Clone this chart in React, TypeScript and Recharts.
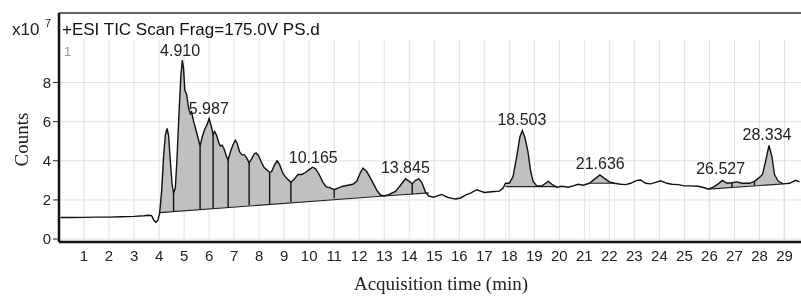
import React from 'react';
import { ComposedChart, Line, Area, Scatter, XAxis, YAxis, ReferenceLine, LabelList } from 'recharts';

// TIC trace: [time (min), counts x10^7]
const trace: [number, number][] = [
  [0.05, 1.1], [0.5, 1.1], [1.0, 1.11], [1.5, 1.12], [2.0, 1.12], [2.5, 1.14], [3.0, 1.16], [3.4, 1.19],
  [3.6, 1.22], [3.7, 1.2], [3.8, 0.95], [3.87, 0.86], [3.95, 0.95], [4.02, 1.3], [4.1, 2.4], [4.18, 4.2],
  [4.25, 5.3], [4.32, 5.65], [4.38, 5.3], [4.45, 4.0], [4.52, 2.8], [4.58, 2.35], [4.65, 2.6], [4.72, 4.2],
  [4.8, 6.5], [4.87, 8.3], [4.93, 9.15], [4.98, 8.7], [5.03, 7.6], [5.1, 7.4], [5.18, 6.7], [5.25, 6.4],
  [5.3, 6.5], [5.38, 6.0], [5.45, 5.7], [5.55, 5.2], [5.64, 4.75], [5.72, 5.2], [5.82, 5.6], [5.92, 5.85],
  [6.0, 6.15], [6.08, 5.8], [6.16, 5.35], [6.22, 5.5], [6.3, 5.3], [6.38, 4.95], [6.45, 4.75], [6.52, 4.8],
  [6.6, 4.6], [6.7, 4.2], [6.76, 4.05], [6.85, 4.45], [6.95, 4.8], [7.05, 5.05], [7.12, 4.9], [7.22, 4.45],
  [7.32, 4.3], [7.42, 4.3], [7.5, 4.15], [7.6, 3.9], [7.7, 4.1], [7.8, 4.35], [7.88, 4.4], [7.98, 4.25],
  [8.08, 3.95], [8.2, 3.65], [8.3, 3.55], [8.42, 3.4], [8.5, 3.45], [8.62, 3.8], [8.72, 4.0], [8.82, 3.8],
  [8.95, 3.35], [9.1, 3.1], [9.27, 2.9], [9.4, 3.05], [9.55, 3.3], [9.7, 3.3], [9.85, 3.4], [10.0, 3.55],
  [10.13, 3.67], [10.25, 3.6], [10.4, 3.3], [10.55, 2.9], [10.68, 2.68], [10.85, 2.62], [11.0, 2.52], [11.15, 2.6],
  [11.35, 2.7], [11.55, 2.75], [11.75, 2.8], [11.9, 2.95], [12.05, 3.4], [12.15, 3.62], [12.3, 3.45], [12.5, 3.0],
  [12.7, 2.5], [12.85, 2.25], [13.0, 2.2], [13.2, 2.28], [13.45, 2.43], [13.65, 2.75], [13.85, 3.08], [14.0, 2.95],
  [14.12, 2.82], [14.25, 3.0], [14.38, 3.08], [14.5, 2.9], [14.65, 2.4], [14.78, 2.2], [14.98, 2.14], [15.15, 2.22],
  [15.3, 2.28], [15.5, 2.15], [15.7, 2.08], [15.85, 2.05], [16.05, 2.1], [16.25, 2.25], [16.45, 2.35], [16.7, 2.52],
  [16.85, 2.45], [17.0, 2.38], [17.3, 2.42], [17.6, 2.45], [17.75, 2.6], [17.85, 2.85], [18.0, 2.85], [18.15, 3.2],
  [18.3, 4.22], [18.42, 5.2], [18.52, 5.55], [18.62, 5.2], [18.74, 4.5], [18.85, 3.5], [18.95, 2.95], [19.1, 2.72],
  [19.3, 2.72], [19.45, 2.85], [19.56, 2.95], [19.7, 2.8], [19.9, 2.65], [20.1, 2.7], [20.35, 2.65], [20.55, 2.72],
  [20.75, 2.8], [20.95, 2.75], [21.2, 2.85], [21.4, 3.05], [21.62, 3.28], [21.8, 3.1], [22.0, 2.92], [22.2, 2.85],
  [22.45, 2.8], [22.65, 2.78], [22.85, 2.85], [23.1, 3.0], [23.25, 3.02], [23.45, 2.85], [23.65, 2.82], [23.85, 2.9],
  [24.05, 2.98], [24.3, 2.85], [24.5, 2.8], [24.75, 2.78], [25.0, 2.72], [25.25, 2.72], [25.55, 2.7], [25.8, 2.62],
  [25.95, 2.55], [26.15, 2.65], [26.35, 2.82], [26.52, 3.0], [26.7, 2.85], [26.9, 2.88], [27.1, 2.92], [27.3, 2.85],
  [27.6, 2.85], [27.8, 2.95], [28.0, 3.15], [28.12, 3.3], [28.25, 4.0], [28.38, 4.78], [28.5, 4.2], [28.6, 3.3],
  [28.75, 2.95], [28.95, 2.82], [29.2, 2.85], [29.45, 3.0], [29.6, 2.92],
];

// integration windows and their baselines
const segStart = [4.02, 13.0, 17.85, 21.2, 25.95];
const segEnd = [13.0, 14.78, 19.9, 22.2, 28.95];
const baseStart = [1.35, 2.2, 2.68, 2.85, 2.55];
const baseEnd = [2.2, 2.36, 2.68, 2.86, 2.82];

// peak split lines
const divTimes = [4.58, 5.64, 6.16, 6.76, 7.6, 8.42, 9.27, 11.0, 14.12, 26.9, 27.8];
const divBase = [1.41, 1.52, 1.57, 1.63, 1.72, 1.8, 1.89, 2.08, 2.3, 2.64, 2.73];
const divTop = [2.35, 4.75, 5.35, 4.05, 3.9, 3.4, 2.9, 2.52, 2.82, 2.88, 2.95];

// annotated retention times
const peakTimes = [4.84, 5.987, 10.165, 13.845, 18.503, 21.636, 26.45, 28.3];
const peakHeights = [9.13, 6.15, 3.64, 3.13, 5.59, 3.33, 3.08, 4.82];
const peakLabels = ['4.910', '5.987', '10.165', '13.845', '18.503', '21.636', '26.527', '28.334'];

const xTicks = Array.from({ length: 29 }, (_, i) => i + 1);
const yTicks = [0, 2, 4, 6, 8];

const X_MAX = 29.66;
const Y_MIN = -0.15;
const Y_MAX = 11.55;
const GRID_TOP = 10.2;

const SANS = '"Liberation Sans", Arial, sans-serif';
const SERIF = '"Liberation Serif", "Times New Roman", serif';

const inSegment = (t: number) => segStart.some((s, i) => t >= s && t <= segEnd[i]);

export default function App() {
  const data = trace.map(([t, v]) => ({ t, v }));
  const peaks = peakTimes.map((t, i) => ({ t, v: peakHeights[i], label: peakLabels[i] }));

  return (
    <div style={{ position: 'absolute', left: 0, top: 0, width: 801, height: 300, background: '#fff' }}>
      <style>{'.grid-ref line { mix-blend-mode: darken; }'}</style>
      <ComposedChart width={801} height={300} data={data} margin={{ top: 13, right: 0, bottom: 0, left: 0 }}>
        <XAxis
          dataKey="t"
          type="number"
          domain={[0, X_MAX]}
          ticks={xTicks}
          interval={0}
          allowDataOverflow
          height={58}
          tickLine={false}
          tickSize={4}
          tickMargin={4}
          axisLine={{ stroke: '#111', strokeWidth: 2.5 }}
          tick={{ fontSize: 15, fill: '#222', fontFamily: SANS }}
          label={{
            content: (p: any) => (
              <text
                x={p.viewBox.x + p.viewBox.width / 2 + 11}
                y={p.viewBox.y + 48}
                textAnchor="middle"
                fontFamily={SERIF}
                fontSize={19}
                fill="#222"
              >
                Acquisition time (min)
              </text>
            ),
          }}
        />
        <YAxis
          type="number"
          domain={[Y_MIN, Y_MAX]}
          ticks={yTicks}
          allowDataOverflow
          width={59}
          tickSize={6}
          tickMargin={2}
          tickLine={{ stroke: '#222' }}
          axisLine={{ stroke: '#111', strokeWidth: 2.5 }}
          tick={{ fontSize: 15, fill: '#222', fontFamily: SANS }}
          label={{
            content: (p: any) => {
              const x = p.viewBox.x + 28;
              const y = p.viewBox.y + p.viewBox.height / 2 + 12;
              return (
                <text
                  x={x}
                  y={y}
                  transform={`rotate(-90, ${x}, ${y})`}
                  textAnchor="middle"
                  fontFamily={SERIF}
                  fontSize={19}
                  fill="#222"
                >
                  Counts
                </text>
              );
            },
          }}
        />

        {/* shaded peaks down to zero, then cut off under the baselines */}
        <Area
          dataKey={(d: any) => (inSegment(d.t) ? d.v : null)}
          type="linear"
          baseValue={0}
          fill="#c0c0c0"
          fillOpacity={1}
          stroke="none"
          isAnimationActive={false}
          zIndex={100}
        />
        {segStart.map((s, i) => (
          <Area
            key={`cut-${i}`}
            data={[{ t: s, b: baseStart[i] }, { t: segEnd[i], b: baseEnd[i] }]}
            dataKey="b"
            type="linear"
            baseValue={0}
            fill="#fff"
            fillOpacity={1}
            stroke="#fff"
            strokeWidth={0.6}
            isAnimationActive={false}
            zIndex={101}
          />
        ))}

        {/* grid */}
        {xTicks.map((k) => (
          <ReferenceLine
            key={`gx-${k}`}
            className="grid-ref"
            segment={[{ x: k, y: Y_MIN }, { x: k, y: GRID_TOP }]}
            stroke="#e2e2e2"
            strokeWidth={1}
            zIndex={102}
          />
        ))}
        {yTicks.map((k) => (
          <ReferenceLine key={`gy-${k}`} className="grid-ref" y={k} stroke="#e2e2e2" strokeWidth={1} zIndex={102} />
        ))}

        {/* baselines and peak splits */}
        {segStart.map((s, i) => (
          <ReferenceLine
            key={`base-${i}`}
            segment={[{ x: s, y: baseStart[i] }, { x: segEnd[i], y: baseEnd[i] }]}
            stroke="#222"
            strokeWidth={1.1}
            zIndex={103}
          />
        ))}
        {divTimes.map((t, i) => (
          <ReferenceLine
            key={`div-${i}`}
            segment={[{ x: t, y: divBase[i] }, { x: t, y: divTop[i] }]}
            stroke="#111"
            strokeWidth={1.4}
            zIndex={103}
          />
        ))}

        <ReferenceLine y={Y_MAX} stroke="#333" strokeWidth={1.5} zIndex={103} />

        <Line
          dataKey="v"
          type="linear"
          stroke="#111"
          strokeWidth={1.4}
          dot={false}
          isAnimationActive={false}
          zIndex={400}
        />

        <Scatter data={peaks} dataKey="v" shape={() => <g />} isAnimationActive={false} zIndex={600}>
          <LabelList dataKey="label" position="top" offset={0} fontSize={16} fill="#222" fontFamily={SANS} />
        </Scatter>
      </ComposedChart>

      <svg width={801} height={60} style={{ position: 'absolute', left: 0, top: 0, pointerEvents: 'none' }}>
        <text x={12} y={35} fontSize={17} fontFamily={SANS} fill="#222">x10</text>
        <text x={45} y={27} fontSize={11} fontFamily={SANS} fill="#222">7</text>
        <text x={62} y={35} fontSize={17} fontFamily={SANS} fill="#111">+ESI TIC Scan Frag=175.0V PS.d</text>
        <text x={64} y={56} fontSize={13} fontFamily={SANS} fill="#999">1</text>
      </svg>
    </div>
  );
}
